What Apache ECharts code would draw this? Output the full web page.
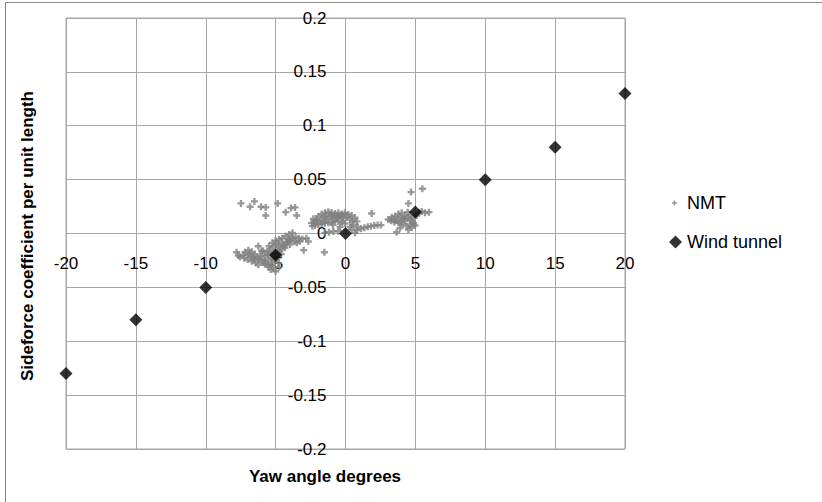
<!DOCTYPE html>
<html>
<head>
<meta charset="utf-8">
<script src="https://cdn.jsdelivr.net/npm/echarts@6/dist/echarts.min.js"></script>
<style>
html,body{margin:0;padding:0;background:#fff;}
#chart{width:822px;height:502px;}
</style>
</head>
<body>
<div id="chart"></div>
<script>
// Axis ranges / ticks
var xTicks = [-20, -15, -10, -5, 0, 5, 10, 15, 20];
var yTicks = [-0.2, -0.15, -0.1, -0.05, 0, 0.05, 0.1, 0.15, 0.2];

// Wind tunnel series
var windYaw = [-20, -15, -10, -5, 0, 5, 10, 15, 20];
var windCoef = [-0.13, -0.08, -0.05, -0.02, 0, 0.02, 0.05, 0.08, 0.13];

// NMT series: [yaw, coefficient]
var nmtUpperLeft = [
  [-7.48,0.0279],[-6.83,0.0248],[-6.52,0.0298],[-6.05,0.0248],[-5.71,0.0242],
  [-5.71,0.0167],[-4.85,0.0279],[-4.28,0.0198],[-3.90,0.0236],[-3.61,0.0242],
  [-3.49,0.0167]
];
var nmtLowerLeft = [
  [-7.79,-0.0174],[-7.55,-0.0217],[-7.24,-0.0229],[-6.95,-0.0155],[-7.00,-0.0242],
  [-6.71,-0.0257],[-6.43,-0.0273],[-6.24,-0.0291],[-6.00,-0.0248],[-5.76,-0.0285],
  [-5.47,-0.0310],[-5.28,-0.0291],[-5.00,-0.0350],[-4.76,-0.0310],[-6.24,-0.0118],
  [-6.00,-0.0164],[-5.57,-0.0198],[-5.24,-0.0087],[-5.00,-0.0068],[-4.76,-0.0056],
  [-4.52,-0.0043],[-4.28,-0.0025],[-4.04,-0.0009],[-3.80,0.0006],[-3.57,-0.0031],
  [-3.33,-0.0043],[-3.09,-0.0050],[-2.80,-0.0043],[-2.66,-0.0074],[-2.99,-0.0155],
  [-1.51,-0.0174],[-3.66,-0.0074],[-3.95,-0.0056],[-4.42,-0.0105],[-4.66,-0.0143],
  [-5.14,-0.0130],[-5.47,-0.0118],[-5.76,-0.0211],[-6.09,-0.0205],[-6.48,-0.0192],
  [-6.81,-0.0211],[-7.67,-0.0205],[-7.19,-0.0174],[-5.52,-0.0242],[-5.04,-0.0180],
  [-4.80,-0.0118],[-4.57,-0.0087],[-4.21,-0.0087],[-4.93,-0.0242],[-5.28,-0.0226],
  [-5.81,-0.0254],[-6.52,-0.0236],[-4.33,-0.0133],[-3.97,-0.0102],[-3.49,-0.0087],
  [-3.26,-0.0071],[-4.80,-0.0273],[-5.16,-0.0320],[-5.35,-0.0335],[-4.60,-0.0190],
  [-5.90,-0.0160],[-6.30,-0.0225],[-4.10,-0.0060],[-5.40,-0.0150],[-4.95,-0.0100],
  [-7.30,-0.0200],[-6.90,-0.0190],[-6.60,-0.0220],[-6.20,-0.0240],[-5.90,-0.0270],
  [-5.60,-0.0290],[-5.30,-0.0270],[-5.10,-0.0240],[-4.90,-0.0210],[-4.70,-0.0160],
  [-4.40,-0.0120],[-4.10,-0.0080],[-3.80,-0.0040],[-5.60,-0.0170],[-5.30,-0.0190],
  [-6.70,-0.0170]
];
var nmtCentre = [
  [-2.42,0.0099],[-2.30,0.0136],[-2.13,0.0115],[-1.94,0.0161],[-1.71,0.0180],
  [-1.47,0.0192],[-1.23,0.0202],[-0.99,0.0192],[-0.75,0.0186],[-0.51,0.0192],
  [-0.27,0.0180],[-0.04,0.0192],[0.20,0.0177],[0.44,0.0167],[0.68,0.0146],
  [0.82,0.0112],[0.56,0.0081],[0.32,0.0062],[-0.04,0.0093],[-0.27,0.0105],
  [-0.51,0.0112],[-0.75,0.0118],[-0.99,0.0105],[-1.23,0.0099],[-1.47,0.0096],
  [-1.71,0.0090],[-1.94,0.0084],[-2.18,0.0074],[-2.37,0.0068],[-2.06,0.0130],
  [-1.59,0.0146],[-1.11,0.0155],[-0.63,0.0146],[-0.16,0.0146],[0.32,0.0130],
  [0.87,0.0062],[-0.39,0.0062],[-1.35,0.0130],[-0.87,0.0136],[-0.39,0.0161],
  [-2.20,0.0100],[-1.80,0.0120],[-1.40,0.0160],[-1.00,0.0170],[-0.60,0.0160],
  [-0.20,0.0160],[0.10,0.0150],[0.50,0.0110],[-0.90,0.0080],[-1.60,0.0110]
];
var nmtTrail = [
  [-1.47,0.0006],[-1.18,0.0012],[-0.87,0.0019],[-0.51,0.0022],[0.44,0.0037],
  [0.80,0.0031],[1.11,0.0043],[1.35,0.0053],[1.59,0.0062],[1.82,0.0068],
  [2.06,0.0074],[2.30,0.0078],[2.54,0.0078],[1.87,0.0186],[0.68,0.0006]
];
var nmtRight = [
  [3.06,0.0130],[3.30,0.0149],[3.54,0.0161],[3.78,0.0180],[4.02,0.0192],
  [4.26,0.0167],[4.50,0.0149],[4.64,0.0130],[4.78,0.0112],[4.88,0.0093],
  [5.09,0.0167],[5.26,0.0192],[5.45,0.0205],[5.69,0.0192],[5.97,0.0198],
  [4.38,0.0068],[4.07,0.0084],[3.78,0.0099],[3.49,0.0105],[3.26,0.0118],
  [3.66,0.0012],[3.90,0.0050],[4.50,0.0037],[4.73,0.0056],[4.97,0.0074],
  [4.26,0.0118],[4.50,0.0279],[4.69,0.0384],[5.50,0.0415],[4.45,0.0198],
  [4.14,0.0136],[4.62,0.0084],
  [3.50,0.0130],[3.90,0.0150],[4.20,0.0140],[4.00,0.0110],[4.60,0.0170],
  [4.90,0.0150],[3.70,0.0120]
];

var FONT = 'Liberation Sans';
var plusIcon = 'path://M2,0H4V2H6V4H4V6H2V4H0V2H2Z';

var windData = windYaw.map(function (x, i) { return [x, windCoef[i]]; });
var nmtData = [].concat(nmtUpperLeft, nmtLowerLeft, nmtCentre, nmtTrail, nmtRight);

var GRID = {left: 66, right: 197, top: 18, bottom: 53};
var W = 822, H = 502;
var plotW = W - GRID.left - GRID.right;
var plotH = H - GRID.top - GRID.bottom;
var xMin = xTicks[0], xMax = xTicks[xTicks.length - 1];
var yMin = yTicks[0], yMax = yTicks[yTicks.length - 1];
// shift the axes so they cross at the origin (like the original chart)
var xAxisOffset = -plotH * (0 - yMin) / (yMax - yMin);
var yAxisOffset = -plotW * (0 - xMin) / (xMax - xMin);

var chart = echarts.init(document.getElementById('chart'), null, {renderer: 'svg'});
chart.setOption({
  animation: false,
  backgroundColor: '#ffffff',
  grid: {
    left: GRID.left, right: GRID.right, top: GRID.top, bottom: GRID.bottom,
    show: true, borderColor: '#a6a6a6', borderWidth: 1, backgroundColor: 'transparent'
  },
  xAxis: {
    type: 'value', position: 'bottom', offset: xAxisOffset,
    min: xMin, max: xMax, interval: 5,
    axisLine: {show: true, onZero: false, lineStyle: {color: '#a6a6a6', width: 1}},
    axisTick: {show: false},
    splitLine: {show: true, lineStyle: {color: '#a6a6a6', width: 1}},
    axisLabel: {color: '#000', fontFamily: FONT, fontSize: 17, margin: 21}
  },
  yAxis: {
    type: 'value', position: 'left', offset: yAxisOffset,
    min: yMin, max: yMax, interval: 0.05,
    axisLine: {show: true, onZero: false, lineStyle: {color: '#a6a6a6', width: 1}},
    axisTick: {show: false},
    splitLine: {show: true, lineStyle: {color: '#a6a6a6', width: 1}},
    axisLabel: {color: '#000', fontFamily: FONT, fontSize: 17, margin: 19, padding: [3, 0, 0, 0]}
  },
  legend: [
    {
      data: [{name: 'NMT', icon: plusIcon}],
      orient: 'vertical', left: 667, top: 188,
      itemWidth: 5, itemHeight: 5,
      textStyle: {color: '#000', fontFamily: FONT, fontSize: 18, lineHeight: 20, padding: [0, 0, 0, 5]}
    },
    {
      data: [{name: 'Wind tunnel', icon: 'diamond'}],
      orient: 'vertical', left: 664, top: 227,
      itemWidth: 13, itemHeight: 13,
      textStyle: {color: '#000', fontFamily: FONT, fontSize: 18, lineHeight: 20}
    }
  ],
  graphic: [
    {
      type: 'rect', silent: true, z: -10,
      shape: {x: 5.5, y: 2.5, width: 840, height: 520},
      style: {fill: 'none', stroke: '#888888', lineWidth: 1}
    },
    {
      type: 'text', x: 325, y: 476,
      style: {text: 'Yaw angle degrees', font: 'bold 17px "Liberation Sans"', fill: '#000',
              textAlign: 'center', textVerticalAlign: 'middle'}
    },
    {
      type: 'text', x: 27, y: 236, rotation: Math.PI / 2,
      style: {text: 'Sideforce coefficient per unit length', font: 'bold 17px "Liberation Sans"', fill: '#000',
              textAlign: 'center', textVerticalAlign: 'middle'}
    }
  ],
  series: [
    {
      name: 'NMT', type: 'scatter', data: nmtData,
      symbol: plusIcon, symbolSize: 7,
      itemStyle: {color: '#7f7f7f'}
    },
    {
      name: 'Wind tunnel', type: 'scatter', data: windData,
      symbol: 'diamond', symbolSize: 13,
      itemStyle: {color: '#000000'}
    }
  ]
});
</script>
</body>
</html>
